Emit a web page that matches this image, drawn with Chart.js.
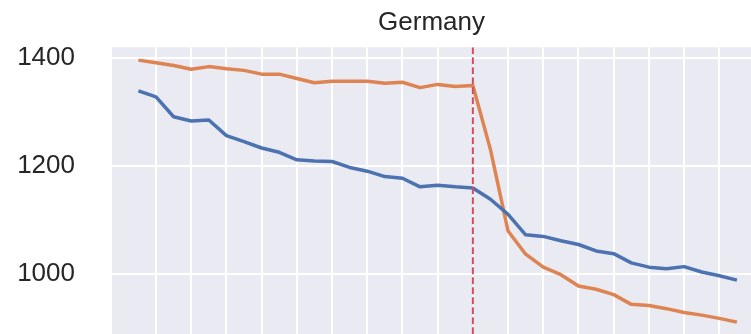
<!DOCTYPE html>
<html>
<head>
<meta charset="utf-8">
<script src="https://cdn.jsdelivr.net/npm/chart.js@4/dist/chart.umd.min.js"></script>
<style>
  html, body { margin: 0; padding: 0; background: #ffffff; }
  #wrap { width: 751px; height: 334px; }
</style>
</head>
<body>
<div id="wrap"><canvas id="chart" width="751" height="334"></canvas></div>
<script>
// Period index along the x axis
const periods = [0, 1, 2, 3, 4, 5, 6, 7, 8, 9, 10, 11, 12, 13, 14, 15, 16, 17,
  18, 19, 20, 21, 22, 23, 24, 25, 26, 27, 28, 29, 30, 31, 32, 33, 34];

// Germany: two series
const blueSeries = [1339, 1328, 1291, 1283, 1285, 1256, 1245, 1233, 1225, 1211,
  1209, 1208, 1197, 1190, 1180, 1177, 1161, 1164, 1161, 1159,
  1138, 1110, 1072, 1069, 1061, 1054, 1042, 1037, 1020, 1012,
  1009, 1013, 1003, 996, 988];
const orangeSeries = [1396, 1391, 1386, 1379, 1384, 1380, 1377, 1370, 1370, 1362,
  1354, 1357, 1357, 1357, 1353, 1355, 1345, 1351, 1347, 1349,
  1230, 1079, 1036, 1012, 998, 977, 971, 961, 943, 941,
  935, 928, 923, 917, 910];

// Period where the structural break happens (dashed marker)
const breakPeriod = 19;

// Tick positions
const yTicks = [1000, 1200, 1400];
const xGridTicks = [1, 3, 5, 7, 9, 11, 13, 15, 17, 19, 21, 23, 25, 27, 29, 31, 33];

const toPoints = (vals) => vals.map((v, i) => ({ x: periods[i], y: v }));

const FONT = "'Liberation Sans', Arial, Helvetica, sans-serif";
const TEXT = '#262626';

const plotBackground = {
  id: 'plotBackground',
  beforeDraw(chart) {
    const { ctx, chartArea: a } = chart;
    ctx.save();
    ctx.fillStyle = '#EAEAF2';
    ctx.fillRect(a.left, a.top, a.right - a.left, a.bottom - a.top);
    ctx.restore();
  }
};

const breakLine = {
  id: 'breakLine',
  afterDatasetsDraw(chart) {
    const { ctx, chartArea: a, scales } = chart;
    const x = scales.x.getPixelForValue(breakPeriod);
    ctx.save();
    ctx.beginPath();
    ctx.rect(a.left, a.top, a.right - a.left, a.bottom - a.top);
    ctx.clip();
    ctx.strokeStyle = '#D04E62';
    ctx.lineWidth = 2;
    ctx.setLineDash([7, 3]);
    ctx.beginPath();
    ctx.moveTo(x, a.top);
    ctx.lineTo(x, a.bottom);
    ctx.stroke();
    ctx.restore();
  }
};

const lineStyle = {
  borderWidth: 3.5,
  pointRadius: 0,
  tension: 0,
  borderJoinStyle: 'round',
  fill: false
};

new Chart(document.getElementById('chart'), {
  type: 'line',
  data: {
    datasets: [
      Object.assign({ data: toPoints(blueSeries), borderColor: '#4C72B0' }, lineStyle),
      Object.assign({ data: toPoints(orangeSeries), borderColor: '#DD8452' }, lineStyle)
    ]
  },
  options: {
    responsive: false,
    animation: false,
    devicePixelRatio: 1,
    layout: { padding: 0 },
    plugins: {
      legend: { display: false },
      tooltip: { enabled: false },
      title: {
        display: true,
        text: 'Germany',
        fullSize: false,
        color: TEXT,
        font: { family: FONT, size: 26, weight: 'normal' },
        padding: { top: 7, bottom: 9 }
      }
    },
    scales: {
      x: {
        type: 'linear',
        min: -1.5,
        max: 34.8,
        afterBuildTicks(scale) {
          scale.ticks = xGridTicks.map(v => ({ value: v }));
        },
        ticks: { display: false },
        grid: { color: '#ffffff', lineWidth: 2, drawTicks: false },
        border: { display: false }
      },
      y: {
        min: 888,
        max: 1420,
        afterBuildTicks(scale) {
          scale.ticks = yTicks.map(v => ({ value: v }));
        },
        afterFit(scale) {
          scale.width = 112;
          scale.paddingTop = 0;
          scale.paddingBottom = 0;
        },
        ticks: {
          color: TEXT,
          padding: 37,
          font: { family: FONT, size: 26 },
          callback: (v) => String(v)
        },
        grid: { color: '#ffffff', lineWidth: 2, drawTicks: false },
        border: { display: false }
      }
    }
  },
  plugins: [plotBackground, breakLine]
});
</script>
</body>
</html>
